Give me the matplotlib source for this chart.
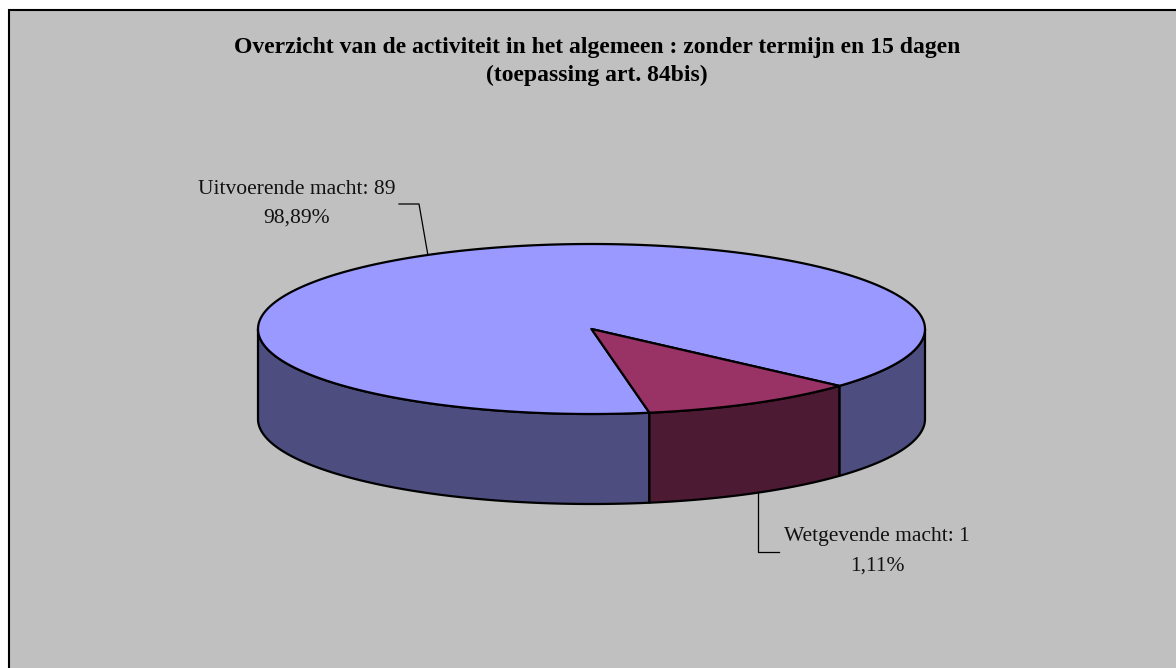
import numpy as np
import matplotlib.pyplot as plt
from matplotlib.patches import Polygon, Rectangle

# --- data -----------------------------------------------------------------
title_lines = [
    "Overzicht van de activiteit in het algemeen : zonder termijn en 15 dagen",
    "(toepassing art. 84bis)",
]
categories = ["Uitvoerende macht", "Wetgevende macht"]
counts = [89, 1]
# angular size of each slice as it is drawn in the picture (degrees)
drawn_span_deg = [322, 38]

top_colors = ["#9999FF", "#993366"]
side_colors = ["#4D4D80", "#4D1A33"]

# --- layout (pixels) --------------------------------------------------------
W, H = 1176, 668
CX, CY = 591.5, 329.0  # centre of the top ellipse
RX, RY = 333.5, 85.0
DEPTH = 90.0
START = 280.0  # first slice starts here and runs clockwise

fig = plt.figure(figsize=(W / 100, H / 100), dpi=100, facecolor="white")
ax = fig.add_axes([0, 0, 1, 1])
ax.set_xlim(0, W)
ax.set_ylim(H, 0)
ax.axis("off")

ax.add_patch(Rectangle((8.5, 9.5), W + 20, H + 20, facecolor="#C0C0C0",
                       edgecolor="black", lw=1.5, zorder=0))


def ex(t):
    return CX + RX * np.cos(np.radians(t))


def ey(t, dz=0.0):
    return CY - RY * np.sin(np.radians(t)) + dz


# slice angles (clockwise from START)
bounds = []
hi = START
for span in drawn_span_deg:
    bounds.append((hi - span, hi))
    hi -= span

edge = dict(edgecolor="black", lw=1.6, joinstyle="round")

# front walls
for (lo, hi), col in zip(bounds, side_colors):
    for k in (-1, 0, 1):
        u, v = max(lo, 180 + 360 * k), min(hi, 360 + 360 * k)
        if v <= u:
            continue
        t = np.linspace(u, v, 120)
        xs = np.concatenate([ex(t), ex(t[::-1])])
        ys = np.concatenate([ey(t), ey(t[::-1], DEPTH)])
        ax.add_patch(Polygon(np.column_stack([xs, ys]), closed=True,
                             facecolor=col, zorder=2, **edge))

# top faces
for (lo, hi), col in zip(bounds, top_colors):
    t = np.linspace(lo, hi, 300)
    xs = np.concatenate([[CX], ex(t)])
    ys = np.concatenate([[CY], ey(t)])
    ax.add_patch(Polygon(np.column_stack([xs, ys]), closed=True,
                         facecolor=col, zorder=3, **edge))

# title
serif = "Liberation Serif"
ax.text(597, 47, title_lines[0], ha="center", va="center", fontsize=17,
        fontweight="bold", family=serif, zorder=5)
ax.text(597, 75, title_lines[1], ha="center", va="center", fontsize=17,
        fontweight="bold", family=serif, zorder=5)

# data labels with leader lines
total = sum(counts)
pcts = [f"{100 * c / total:.2f}".replace(".", ",") + "%" for c in counts]
mids = [(lo + hi) / 2 for lo, hi in bounds]

# blue slice: label above-left, leader to top rim
m = mids[0]
ax.plot([399, 419, ex(m) - 2], [204, 204, ey(m)], color="black", lw=0.9,
        zorder=4)
ax.text(297, 189, f"{categories[0]}: {counts[0]}", ha="center", va="center",
        fontsize=15.5, family=serif, color="#111111", zorder=5)
ax.text(297, 218, pcts[0], ha="center", va="center",
        fontsize=15.5, family=serif, color="#111111", zorder=5)

# red slice: label below-right, leader to bottom rim
m = mids[1] + 1
ax.plot([ex(m), ex(m), 779], [ey(m, DEPTH), 552, 552], color="black", lw=0.9,
        zorder=1)
ax.text(877, 537, f"{categories[1]}: {counts[1]}", ha="center", va="center",
        fontsize=15.5, family=serif, color="#111111", zorder=5)
ax.text(877, 566, pcts[1], ha="center", va="center",
        fontsize=15.5, family=serif, color="#111111", zorder=5)

fig.savefig("out.png", dpi=100, facecolor="white")
